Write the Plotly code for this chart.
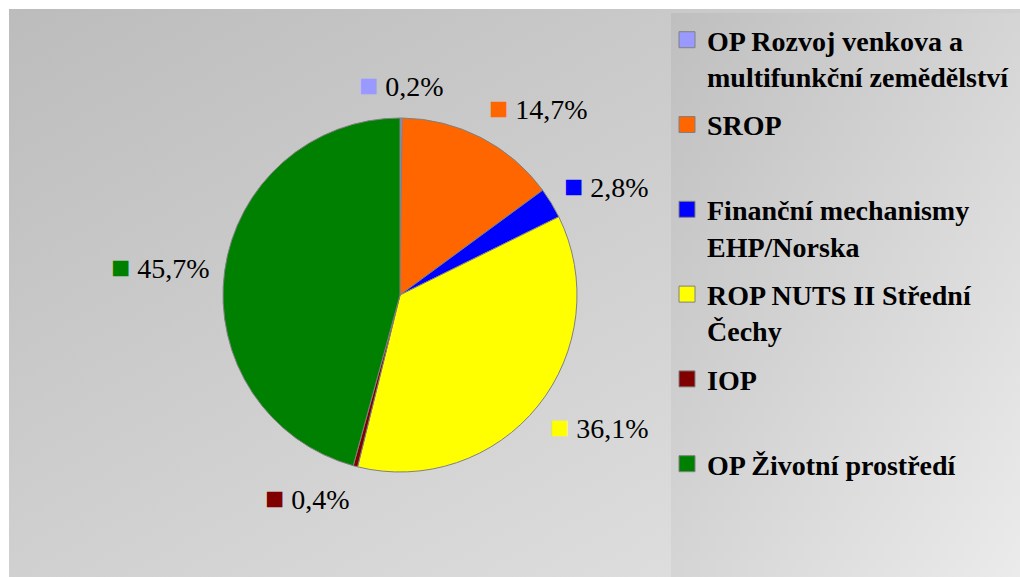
import base64
import math
import plotly.graph_objects as go

W, H = 1020, 577

# DATA
labels = [
    'OP Rozvoj venkova a<br>multifunkční zemědělství',
    'SROP<br>\u00a0',
    'Finanční mechanismy<br>EHP/Norska',
    'ROP NUTS II Střední<br>Čechy',
    'IOP<br>\u00a0',
    'OP Životní prostředí<br>\u00a0',
]
values = [0.2, 14.7, 2.8, 36.1, 0.4, 45.7]
colors = ['#9999FF', '#FF6600', '#0000FF', '#FFFF00', '#800000', '#008000']
value_text = ['0,2%', '14,7%', '2,8%', '36,1%', '0,4%', '45,7%']

SERIF = 'Liberation Serif, Times New Roman, serif'
EDGE = '#808080'

# pie geometry (pixels)
CX, CY, R = 400, 295, 177
LBL_RX, LBL_RY = 190, 210


def gradient_uri(c1, c2):
    svg = ('<svg xmlns="http://www.w3.org/2000/svg" width="100" height="100" '
           'viewBox="0 0 100 100" preserveAspectRatio="none"><defs>'
           '<linearGradient id="g" x1="0" y1="0" x2="1" y2="1">'
           f'<stop offset="0" stop-color="{c1}"/><stop offset="1" stop-color="{c2}"/>'
           '</linearGradient></defs><rect width="100" height="100" fill="url(#g)"/></svg>')
    return 'data:image/svg+xml;base64,' + base64.b64encode(svg.encode()).decode()


fig = go.Figure()

fig.add_trace(go.Pie(
    labels=labels,
    values=values,
    sort=False,
    direction='clockwise',
    rotation=0,
    marker=dict(colors=colors, line=dict(color=EDGE, width=1)),
    textinfo='none',
    showlegend=False,
    hovertemplate='%{label}<br>%{value}%<extra></extra>',
    domain=dict(x=[(CX - R) / W, (CX + R) / W],
                y=[1 - (CY + R) / H, 1 - (CY - R) / H]),
))

# legend entries (one group each so they can be spaced out)
for lab, col in zip(labels, colors):
    fig.add_trace(go.Scatter(
        x=[None], y=[None], mode='markers', name=lab, legendgroup=lab,
        marker=dict(symbol='square', size=16, color=col,
                    line=dict(color=EDGE, width=1)),
        hoverinfo='skip',
    ))

# percentage labels around the pie
total = sum(values)
annotations = []
cum = 0
for v, col, txt in zip(values, colors, value_text):
    mid = (cum + v / 2) / total * 2 * math.pi
    cum += v
    s, c = math.sin(mid), math.cos(mid)
    px = CX + LBL_RX * s
    py = CY - LBL_RY * c
    if abs(s) < 0.15:
        xa = 'center'
    elif s > 0:
        xa = 'left'
    else:
        xa = 'right'
    annotations.append(dict(
        x=px / W, y=1 - py / H, xref='paper', yref='paper',
        xanchor=xa, yanchor='middle', showarrow=False,
        text=f'<span style="color:{col};font-size:32px">■</span> {txt}',
        font=dict(family=SERIF, size=28, color='black'),
    ))

fig.update_layout(
    width=W, height=H,
    margin=dict(l=0, r=0, t=0, b=0),
    paper_bgcolor='#e2e2e2',
    plot_bgcolor='rgba(0,0,0,0)',
    font=dict(family=SERIF),
    xaxis=dict(visible=False),
    yaxis=dict(visible=False),
    annotations=annotations,
    images=[
        dict(source=gradient_uri('#bcbcbc', '#e4e4e4'), xref='paper', yref='paper',
             x=9 / W, y=1 - 9 / H, sizex=1 - 9 / W, sizey=1 - 9 / H,
             xanchor='left', yanchor='top', sizing='stretch', layer='below'),
        dict(source=gradient_uri('#bfbfbf', '#ebebeb'), xref='paper', yref='paper',
             x=671 / W, y=1 - 13 / H, sizex=1 - 671 / W, sizey=1 - 13 / H,
             xanchor='left', yanchor='top', sizing='stretch', layer='below'),
    ],
    # white page edge along the top and left
    shapes=[
        dict(type='rect', xref='paper', yref='paper', x0=0, x1=1, y0=1 - 9 / H, y1=1,
             fillcolor='white', line_width=0, layer='below'),
        dict(type='rect', xref='paper', yref='paper', x0=0, x1=9 / W, y0=0, y1=1,
             fillcolor='white', line_width=0, layer='below'),
    ],
    legend=dict(
        x=667 / W, y=1 - 15 / H, xanchor='left', yanchor='top',
        valign='top', tracegroupgap=9,
        bgcolor='rgba(0,0,0,0)',
        font=dict(family=SERIF, size=28, color='black', weight='bold'),
    ),
)

# drop the default page margin so the figure sits at the window origin
fig.write_html('out.html', config={'displayModeBar': False},
               post_script="document.body.style.margin='0';")
